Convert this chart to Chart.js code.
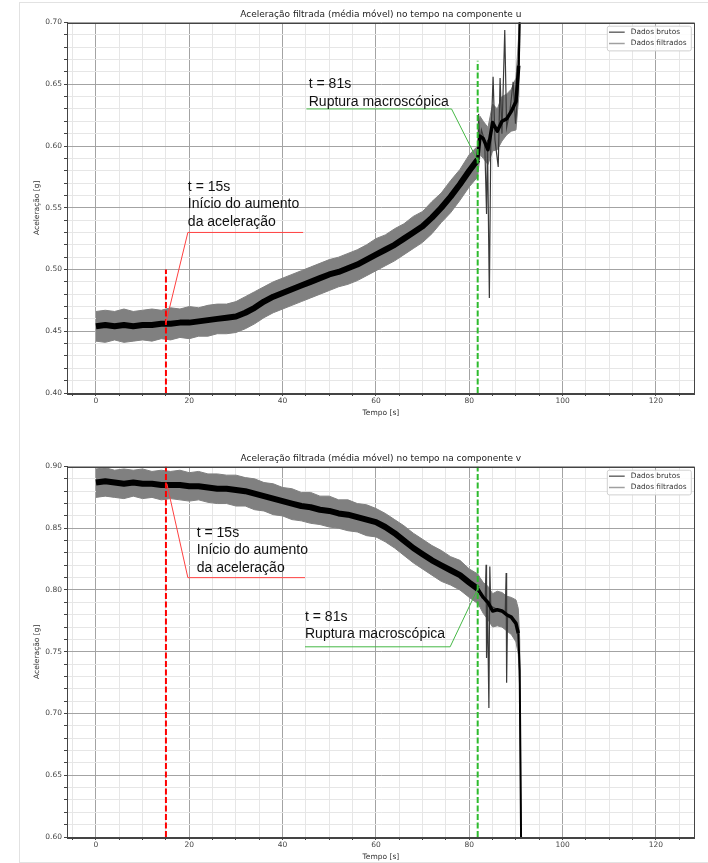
<!DOCTYPE html>
<html lang="pt">
<head>
<meta charset="utf-8">
<title>Aceleração filtrada (média móvel)</title>
<script src="https://cdn.jsdelivr.net/npm/chart.js@4.4.1/dist/chart.umd.min.js"></script>
<style>
    html, body { margin: 0; padding: 0; background: #fff; overflow: hidden; }
    body { width: 708px; height: 863px; position: relative; }
    .moldura { position: absolute; left: 19px; top: 2px; width: 720px; height: 859px; border: 1px solid #e2e2e2; }
    .grafico { position: absolute; left: 0; width: 708px; height: 421px; }
    #g1 { top: 0; }
    #g2 { top: 444px; }
</style>
</head>
<body>
<div class="moldura"></div>
<div class="grafico" id="g1"><canvas id="chartU"></canvas></div>
<div class="grafico" id="g2"><canvas id="chartV"></canvas></div>
<script>
// ---- dados ----
const tempoU = [0, 2, 4, 6, 8, 10, 12, 14, 16, 18, 20, 22, 24, 26, 28, 30, 32, 34, 36, 38,
    40, 42, 44, 46, 48, 50, 52, 54, 56, 58, 60, 62, 64, 66, 68, 70, 72, 74, 76, 78, 80, 81.8,
    82.3, 83, 84, 85, 86, 87, 88, 89, 90, 90.6, 91];
const filtradoU = [0.454, 0.455, 0.454, 0.455, 0.454, 0.455, 0.455, 0.456, 0.456, 0.457,
    0.457, 0.458, 0.459, 0.460, 0.461, 0.462, 0.465, 0.469, 0.474, 0.478,
    0.481, 0.484, 0.487, 0.490, 0.493, 0.496, 0.498, 0.501, 0.504, 0.508,
    0.512, 0.516, 0.520, 0.525, 0.530, 0.535, 0.542, 0.550, 0.559, 0.569,
    0.580, 0.589,
    0.608, 0.606, 0.597, 0.619, 0.612, 0.620, 0.622, 0.628, 0.636, 0.665, 0.74];
const brutoSupU = [0.466, 0.467, 0.466, 0.468, 0.466, 0.467, 0.468, 0.467, 0.469, 0.468,
    0.470, 0.469, 0.471, 0.472, 0.472, 0.474, 0.478, 0.482, 0.486, 0.490,
    0.493, 0.496, 0.499, 0.502, 0.505, 0.508, 0.510, 0.513, 0.516, 0.520,
    0.525, 0.528, 0.533, 0.537, 0.543, 0.547, 0.555, 0.562, 0.572, 0.581,
    0.593, 0.600,
    0.624, 0.620, 0.615, 0.634, 0.630, 0.640, 0.642, 0.646, 0.655, 0.690, 0.76];
const brutoInfU = [0.442, 0.441, 0.443, 0.441, 0.442, 0.443, 0.442, 0.444, 0.443, 0.445,
    0.444, 0.446, 0.446, 0.448, 0.448, 0.449, 0.452, 0.456, 0.461, 0.465,
    0.468, 0.471, 0.474, 0.477, 0.480, 0.483, 0.486, 0.488, 0.491, 0.495,
    0.499, 0.503, 0.507, 0.512, 0.517, 0.522, 0.529, 0.538, 0.546, 0.556,
    0.567, 0.575,
    0.593, 0.590, 0.585, 0.596, 0.597, 0.604, 0.609, 0.612, 0.613, 0.640, 0.72];
const picoTempoU = [81.8, 82.0, 82.2, 82.6, 83.3, 83.7, 83.9, 84.3, 84.6, 85.1, 85.5,
    86.2, 86.6, 87.0, 87.6, 88.0, 88.7, 89.4, 89.9, 90.5, 91.0];
const picoU = [0.589, 0.626, 0.600, 0.613, 0.604, 0.545, 0.605, 0.477, 0.600, 0.656, 0.605,
    0.583, 0.655, 0.610, 0.694, 0.615, 0.628, 0.652, 0.618, 0.648, 0.75];

const tempoV = [0, 2, 4, 6, 8, 10, 12, 14, 16, 18, 20, 22, 24, 26, 28, 30, 32, 34, 36, 38,
    40, 42, 44, 46, 48, 50, 52, 54, 56, 58, 60, 62, 64, 66, 68, 70, 72, 74, 76, 78, 80, 81.8,
    82.3, 83, 84, 85, 86, 87, 88, 89, 90, 90.5, 90.8, 91.2];
const filtradoV = [0.887, 0.888, 0.887, 0.886, 0.887, 0.886, 0.886, 0.885, 0.885, 0.885,
    0.884, 0.884, 0.883, 0.882, 0.882, 0.881, 0.880, 0.878, 0.876, 0.874,
    0.872, 0.870, 0.868, 0.867, 0.865, 0.864, 0.862, 0.861, 0.859, 0.857,
    0.855, 0.851, 0.846, 0.840, 0.834, 0.829, 0.824, 0.820, 0.816, 0.812,
    0.806, 0.801,
    0.798, 0.794, 0.790, 0.783, 0.784, 0.783, 0.780, 0.778, 0.773, 0.765, 0.735, 0.55];
const brutoSupV = [0.898, 0.899, 0.897, 0.898, 0.897, 0.898, 0.896, 0.897, 0.896, 0.897,
    0.895, 0.896, 0.894, 0.894, 0.893, 0.893, 0.891, 0.890, 0.887, 0.886,
    0.883, 0.882, 0.879, 0.879, 0.876, 0.876, 0.873, 0.873, 0.870, 0.869,
    0.866, 0.862, 0.857, 0.852, 0.846, 0.841, 0.836, 0.832, 0.827, 0.824,
    0.817, 0.813,
    0.810, 0.806, 0.803, 0.797, 0.799, 0.798, 0.795, 0.794, 0.792, 0.785, 0.76, 0.56];
const brutoInfV = [0.875, 0.876, 0.875, 0.874, 0.876, 0.874, 0.875, 0.873, 0.874, 0.873,
    0.872, 0.873, 0.871, 0.870, 0.870, 0.868, 0.868, 0.865, 0.864, 0.861,
    0.860, 0.857, 0.856, 0.854, 0.853, 0.851, 0.850, 0.848, 0.847, 0.844,
    0.843, 0.839, 0.834, 0.828, 0.822, 0.817, 0.812, 0.807, 0.804, 0.800,
    0.794, 0.789,
    0.786, 0.781, 0.776, 0.770, 0.771, 0.770, 0.767, 0.764, 0.758, 0.748, 0.72, 0.54];
const picoTempoV = [81.8, 83.4, 83.6, 83.7, 83.9, 84.2, 84.4, 84.6, 87.7, 87.9, 88.0, 88.2];
const picoV = [0.801, 0.791, 0.8205, 0.745, 0.790, 0.7045, 0.819, 0.787, 0.781, 0.8137, 0.725, 0.780];

const ticksX = [0, 20, 40, 60, 80, 100, 120];

const fonteEixo = '"DejaVu Sans", sans-serif';
const fonteNota = '"Liberation Sans", Arial, sans-serif';

function pontos(xs, ys) {
    return xs.map((t, i) => ({ x: t, y: ys[i] }));
}

// desenha título, moldura dos eixos, legenda e anotações
const decor = {
    id: 'decor',
    afterDatasetsDraw(chart, args, opts) {
        const { ctx, chartArea: a, scales: { x, y } } = chart;
        ctx.save();

        ctx.save();
        ctx.beginPath();
        ctx.rect(a.left, a.top, a.width, a.height);
        ctx.clip();
        opts.marcas.forEach(m => {
            const px = x.getPixelForValue(m.t);
            ctx.beginPath();
            ctx.setLineDash([6, 2.5]);
            ctx.lineWidth = 2;
            ctx.strokeStyle = m.cor;
            ctx.moveTo(px, y.getPixelForValue(m.de));
            ctx.lineTo(px, y.getPixelForValue(m.ate));
            ctx.stroke();
        });
        ctx.setLineDash([]);
        opts.notas.forEach(n => {
            ctx.beginPath();
            ctx.lineWidth = 1;
            ctx.strokeStyle = n.cor;
            n.guia.forEach((p, i) => {
                const px = x.getPixelForValue(p[0]), py = y.getPixelForValue(p[1]);
                if (i === 0) ctx.moveTo(px, py); else ctx.lineTo(px, py);
            });
            ctx.stroke();
        });
        ctx.restore();

        ctx.fillStyle = '#111';
        ctx.font = '14px ' + fonteNota;
        ctx.textAlign = 'left';
        ctx.textBaseline = 'middle';
        opts.notas.forEach(n => {
            const px = x.getPixelForValue(n.x), py = y.getPixelForValue(n.y);
            n.texto.forEach((linha, i) => ctx.fillText(linha, px, py + i * 17.5));
        });

        // moldura dos eixos
        ctx.strokeStyle = '#444';
        ctx.lineWidth = 1;
        ctx.strokeRect(Math.round(a.left) + 0.5, Math.round(a.top) + 0.5,
            Math.round(a.width) - 1, Math.round(a.height));

        // título
        ctx.fillStyle = '#222';
        ctx.font = '9px ' + fonteEixo;
        ctx.textAlign = 'center';
        ctx.fillText(opts.titulo, (a.left + a.right) / 2, a.top - 7.5);

        // legenda
        const lx = a.right - 87.4, ly = a.top + 3.7;
        ctx.fillStyle = 'rgba(255,255,255,0.85)';
        ctx.strokeStyle = '#d0d0d0';
        ctx.beginPath();
        ctx.roundRect(lx, ly, 84, 24.7, 2);
        ctx.fill();
        ctx.stroke();
        ctx.font = '7.4px ' + fonteEixo;
        ctx.textAlign = 'left';
        opts.legenda.forEach((item, i) => {
            const yy = a.top + 9.7 + i * 11.3;
            ctx.beginPath();
            ctx.strokeStyle = item.cor;
            ctx.lineWidth = 1.5;
            ctx.moveTo(lx + 1.7, yy);
            ctx.lineTo(lx + 17.4, yy);
            ctx.stroke();
            ctx.fillStyle = '#333';
            ctx.fillText(item.texto, lx + 23.4, yy);
        });
        ctx.restore();
    }
};

function createAccelChart(elementId, titulo, tempo, filtrado, sup, inf, picoTempo, pico, yMin, yMax, marcas, notas) {
    const ctx = document.getElementById(elementId).getContext('2d');
    return new Chart(ctx, {
        type: 'line',
        data: {
            datasets: [
                {
                    label: 'Dados filtrados',
                    data: pontos(tempo, filtrado),
                    borderColor: '#000',
                    borderWidth: 6,
                    borderJoinStyle: 'round',
                    pointRadius: 0,
                    order: 0,
                    segment: {
                        borderWidth: c => c.p0.parsed.x < 81.8 ? 6 : (c.p0.parsed.x >= 90.4 ? 2 : 3.5)
                    }
                },
                {
                    label: 'picos',
                    data: pontos(picoTempo, pico),
                    borderColor: '#3a3a3a',
                    borderWidth: 1.2,
                    pointRadius: 0,
                    order: 1
                },
                {
                    label: 'Dados brutos',
                    data: pontos(tempo, sup),
                    borderColor: '#808080',
                    backgroundColor: '#808080',
                    borderWidth: 1,
                    pointRadius: 0,
                    fill: '+1',
                    order: 2
                },
                {
                    label: 'bruto inferior',
                    data: pontos(tempo, inf),
                    borderColor: '#808080',
                    borderWidth: 1,
                    pointRadius: 0,
                    fill: false,
                    order: 3
                }
            ]
        },
        options: {
            responsive: true,
            maintainAspectRatio: false,
            animation: false,
            devicePixelRatio: 1,
            layout: { padding: { top: 22.5, left: 20, right: 13.3, bottom: 0 } },
            scales: {
                x: {
                    type: 'linear',
                    min: -6.2,
                    max: 128.3,
                    afterFit: s => { s.height = 28; },
                    ticks: {
                        stepSize: 5,
                        includeBounds: false,
                        autoSkip: false,
                        maxRotation: 0,
                        padding: 1,
                        color: '#444',
                        font: { family: fonteEixo, size: 7.5 },
                        callback: v => ticksX.includes(v) ? String(v) : ''
                    },
                    grid: {
                        color: c => Math.round(c.tick.value) % 20 === 0 ? '#a3a3a3' : '#e6e6e6',
                        tickLength: 3,
                        tickColor: '#444'
                    },
                    border: { color: '#444' },
                    title: {
                        display: true,
                        text: 'Tempo [s]',
                        color: '#333',
                        font: { family: fonteEixo, size: 7.5 },
                        padding: { top: 0, bottom: 3.8 }
                    }
                },
                y: {
                    min: yMin,
                    max: yMax,
                    afterFit: s => { s.width = 47; },
                    ticks: {
                        stepSize: 0.01,
                        includeBounds: false,
                        autoSkip: false,
                        padding: 2,
                        color: '#444',
                        font: { family: fonteEixo, size: 7.5 },
                        callback: v => Math.round(v * 100) % 5 === 0 ? v.toFixed(2) : ''
                    },
                    grid: {
                        color: c => Math.round(c.tick.value * 100) % 5 === 0 ? '#a3a3a3' : '#e6e6e6',
                        tickLength: 3,
                        tickColor: '#444'
                    },
                    border: { color: '#444' },
                    title: {
                        display: true,
                        text: 'Aceleração [g]',
                        color: '#333',
                        font: { family: fonteEixo, size: 7.5 },
                        padding: { top: 12.5, bottom: 0 }
                    }
                }
            },
            plugins: {
                legend: { display: false },
                tooltip: { enabled: false },
                decor: {
                    titulo: titulo,
                    marcas: marcas,
                    notas: notas,
                    legenda: [
                        { texto: 'Dados brutos', cor: '#6a6a6a' },
                        { texto: 'Dados filtrados', cor: '#a0a0a0' }
                    ]
                }
            }
        },
        plugins: [decor]
    });
}

window.addEventListener('DOMContentLoaded', () => {
    createAccelChart('chartU', 'Aceleração filtrada (média móvel) no tempo na componente u',
        tempoU, filtradoU, brutoSupU, brutoInfU, picoTempoU, picoU, 0.40, 0.70,
        [
            { t: 15, de: 0.40, ate: 0.50, cor: '#ff0000' },
            { t: 81.8, de: 0.40, ate: 0.669, cor: '#2dbb2d' }
        ],
        [
            { texto: ['t = 15s', 'Início do aumento', 'da aceleração'], x: 19.7, y: 0.567, cor: '#ff4040',
              guia: [[15, 0.457], [19.7, 0.530], [44.4, 0.530]] },
            { texto: ['t = 81s', 'Ruptura macroscópica'], x: 45.6, y: 0.650, cor: '#45b845',
              guia: [[81.8, 0.588], [76.2, 0.630], [45.1, 0.630]] }
        ]);
    createAccelChart('chartV', 'Aceleração filtrada (média móvel) no tempo na componente v',
        tempoV, filtradoV, brutoSupV, brutoInfV, picoTempoV, picoV, 0.60, 0.90,
        [
            { t: 15, de: 0.60, ate: 0.90, cor: '#ff0000' },
            { t: 81.8, de: 0.60, ate: 0.90, cor: '#2dbb2d' }
        ],
        [
            { texto: ['t = 15s', 'Início do aumento', 'da aceleração'], x: 21.6, y: 0.8464, cor: '#ff4040',
              guia: [[15.2, 0.886], [19.7, 0.810], [44.8, 0.810]] },
            { texto: ['t = 81s', 'Ruptura macroscópica'], x: 44.8, y: 0.7784, cor: '#45b845',
              guia: [[81.8, 0.801], [75.9, 0.754], [44.8, 0.754]] }
        ]);
});
</script>
</body>
</html>
